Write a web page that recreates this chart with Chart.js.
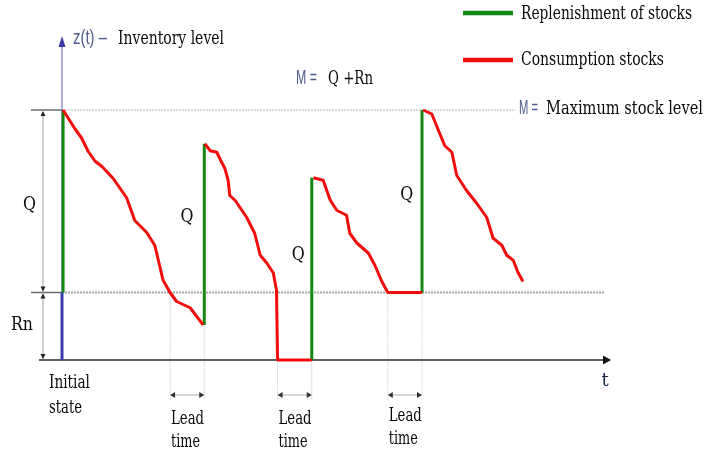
<!DOCTYPE html>
<html><head><meta charset="utf-8">
<script src="https://cdn.jsdelivr.net/npm/chart.js@4"></script>
<style>html,body{margin:0;padding:0;background:#fff}#wrap{width:704px;height:454px;position:relative}</style>
</head><body><div id="wrap"><canvas id="c" width="704" height="454"></canvas></div>
<script>
// ---- data (time units 0..100, stock level units: Rn = 27, M = 100) ----
const maxLevel = 100;           // M = Q + Rn
const reorderLevel = 27;        // Rn
const consumption1 = [[0.2,100],[0.9,97.6],[2.4,92.4],[3.6,88.8],[4.8,83.5],[6.1,79.5],[7.3,77.5],[9.4,72.7],[11.9,64.9],[13.4,55.8],[15.6,51],[17.1,45.8],[18.6,32],[19.9,27],[21.1,23.4],[23.6,20.9],[26.0,14.0]];
const consumption2 = [[26.3,86.5],[27.3,83.7],[28.5,83.1],[29.4,79.1],[30.0,76.6],[30.6,71.8],[30.9,65.8],[31.9,63.8],[34.0,57.1],[35.5,50.6],[36.5,41.9],[37.7,38.8],[38.9,34.9],[39.5,28],[39.7,0],[46.0,0]];
const consumption3 = [[46.3,72.9],[48.1,71.9],[49.4,63.9],[50.6,59.9],[52.4,57.9],[53.0,50.7],[54.3,46.8],[56.4,42.8],[57.6,38],[58.9,31.4],[60.0,27],[66.3,27]];
const consumption4 = [[66.5,100],[68.1,98.4],[69.6,90.4],[70.5,85.7],[71.8,83.1],[72.7,73.8],[74.5,67.8],[76.4,62.6],[78.2,57.1],[79.4,48.7],[81.0,45.9],[81.9,41.9],[83.1,39.9],[84.0,34.9],[84.9,31.4]];
const replenishTimes = [0.2, 26.2, 46.0, 66.3];
const replenishFrom  = [27, 14.0, 0, 27];
const replenishTo    = [100, 86.5, 72.9, 100];
const leadStart = [19.9, 39.7, 60.0];
const leadEnd   = [26.2, 46.0, 66.3];
const leadTop   = [27, 27, 27];
const qLabelPos = [[-6, 62], [23, 57], [43.5, 42], [63.5, 66]];

const RED = '#f20d0d', GREEN = '#138613', BLUE = '#3c3cae';
const serif = '"DejaVu Serif", "Liberation Serif", serif';
const sans = '"Liberation Sans Narrow", "Liberation Sans", Arial, sans-serif';

const pts = a => a.map(p => ({x:p[0], y:p[1]}));
const datasets = [];
[consumption1, consumption2, consumption3, consumption4].forEach(c => datasets.push({data: pts(c), borderColor: RED, borderWidth: 3}));
replenishTimes.forEach((t,i) => datasets.push({data:[{x:t,y:replenishFrom[i]},{x:t,y:replenishTo[i]}], borderColor: GREEN, borderWidth: 3}));
datasets.push({data:[{x:0,y:0},{x:0,y:reorderLevel}], borderColor: BLUE, borderWidth: 3});
datasets.forEach(d => { d.showLine = true; d.pointRadius = 0; d.fill = false; d.tension = 0; d.clip = false; d.borderJoinStyle='round'; d.borderCapStyle='butt'; });

function arrowHead(ctx, x, y, dir, size, w, color) {
  ctx.save(); ctx.fillStyle = color; ctx.beginPath();
  const s = size;
  if (dir === 'up') { ctx.moveTo(x, y); ctx.lineTo(x - w, y + s); ctx.lineTo(x + w, y + s); }
  if (dir === 'down') { ctx.moveTo(x, y); ctx.lineTo(x - w, y - s); ctx.lineTo(x + w, y - s); }
  if (dir === 'left') { ctx.moveTo(x, y); ctx.lineTo(x + s, y - w); ctx.lineTo(x + s, y + w); }
  if (dir === 'right') { ctx.moveTo(x, y); ctx.lineTo(x - s, y - w); ctx.lineTo(x - s, y + w); }
  ctx.closePath(); ctx.fill(); ctx.restore();
}
function line(ctx, x1, y1, x2, y2, color, w, dash) {
  ctx.save(); ctx.strokeStyle = color; ctx.lineWidth = w; ctx.setLineDash(dash || []);
  ctx.beginPath(); ctx.moveTo(x1, y1); ctx.lineTo(x2, y2); ctx.stroke(); ctx.restore();
}
function text(ctx, s, x, y, font, color, align, maxW) {
  ctx.save(); ctx.font = font; ctx.fillStyle = color; ctx.textAlign = align || 'left'; ctx.textBaseline = 'middle';
  if (maxW) ctx.fillText(s, x, y, maxW); else ctx.fillText(s, x, y); ctx.restore();
}

const diagram = {
  id: 'diagram',
  beforeDatasetsDraw(chart) {
    const ctx = chart.ctx, xs = chart.scales.x, ys = chart.scales.y;
    const X = v => xs.getPixelForValue(v), Y = v => ys.getPixelForValue(v);
    const x0 = X(0), yM = Y(maxLevel), yR = Y(reorderLevel), y0 = Y(0);
    // reference dotted lines
    line(ctx, x0, yM, X(83.5), yM, '#b5b5b5', 1.2, [2, 1]);
    line(ctx, x0, yR, X(100), yR, '#a8a8a8', 2, [2, 1]);
    line(ctx, 31, yM, x0, yM, '#6b6b6b', 1.5);
    line(ctx, 31, yR, x0, yR, '#6b6b6b', 1.5);
    // dimension line
    line(ctx, 43, yM + 2, 43, y0, '#a0a0a0', 1);
    arrowHead(ctx, 43, yM + 1, 'up', 5, 2.5, '#222');
    arrowHead(ctx, 43, yR - 1, 'down', 5, 2.5, '#222');
    arrowHead(ctx, 43, yR + 1, 'up', 5, 2.5, '#222');
    arrowHead(ctx, 43, y0 - 1, 'down', 5, 2.5, '#222');
    // lead time guides
    leadStart.forEach((s, i) => {
      const a = X(s), b = X(leadEnd[i]);
      line(ctx, a, Y(leadTop[i]), a, y0 + 40, '#d4d4d8', 1, [2, 1]);
      line(ctx, b, Y(leadTop[i]), b, y0 + 40, '#d4d4d8', 1, [2, 1]);
      line(ctx, a + 3, y0 + 35, b - 3, y0 + 35, '#c8c8c8', 1.5);
      arrowHead(ctx, a, y0 + 35, 'left', 5, 3, '#333');
      arrowHead(ctx, b, y0 + 35, 'right', 5, 3, '#333');
    });
    // time axis
    line(ctx, 39, y0, X(100), y0, '#5f5f5f', 2.2);
    arrowHead(ctx, X(100) + 6, y0, 'right', 8, 4.5, '#111');
    // level axis
    const top = chart.chartArea.top;
    line(ctx, x0, y0, x0, top + 2, '#8282c8', 1.3);
    arrowHead(ctx, x0, top - 7, 'up', 11, 3.5, '#3a3aa8');
  },
  afterDatasetsDraw(chart) {
    const ctx = chart.ctx, xs = chart.scales.x, ys = chart.scales.y;
    const X = v => xs.getPixelForValue(v), Y = v => ys.getPixelForValue(v);
    const f = '18px ' + serif, fs = '20px ' + sans, ink = '#0a0a0a', blueInk = '#4f5b8c';
    // axis title
    text(ctx, 'z(t) \u2013', 73, 38, fs, blueInk, 'left', 34);
    text(ctx, 'Inventory level', 118, 39, f, ink, 'left', 106);
    // M = Q + Rn
    text(ctx, 'M =', 296, 78, fs, blueInk, 'left', 21);
    text(ctx, 'Q +Rn', 328, 79, f, ink, 'left', 45);
    // legend
    line(ctx, 463, 13, 513, 13, GREEN, 4.5);
    text(ctx, 'Replenishment of stocks', 521, 14, f, ink, 'left', 171);
    line(ctx, 463, 60, 513, 60, RED, 4.5);
    text(ctx, 'Consumption stocks', 521, 60, f, ink, 'left', 143);
    text(ctx, 'M =', 519, 108, fs, blueInk, 'left', 19);
    text(ctx, 'Maximum stock level', 546, 109, f, ink, 'left', 157);
    // Q labels
    qLabelPos.forEach(p => text(ctx, 'Q', X(p[0]), Y(p[1]), f, ink, 'center', 13));
    text(ctx, 'Rn', 22, 325, f, ink, 'center', 22);
    // bottom labels
    text(ctx, 'Initial', 49, 383, f, ink, 'left', 41);
    text(ctx, 'state', 49, 408, f, ink, 'left', 33);
    leadStart.forEach((s, i) => {
      const a = X(s) + 1, dy = i === 2 ? -3 : 0;
      text(ctx, 'Lead', a, 419 + dy, f, ink, 'left', 33);
      text(ctx, 'time', a, 442 + dy, f, ink, 'left', 29);
    });
    text(ctx, 't', X(100), 381, f, '#1a2a44', 'center');
  }
};

new Chart(document.getElementById('c'), {
  type: 'scatter',
  data: { datasets },
  options: {
    responsive: false, animation: false, devicePixelRatio: 1,
    layout: { padding: { left: 62, right: 99, top: 43, bottom: 94 } },
    plugins: { legend: { display: false }, tooltip: { enabled: false } },
    scales: {
      x: { type: 'linear', min: 0, max: 100, display: false },
      y: { type: 'linear', min: 0, max: 126.8, display: false }
    }
  },
  plugins: [diagram]
});
</script></body></html>
